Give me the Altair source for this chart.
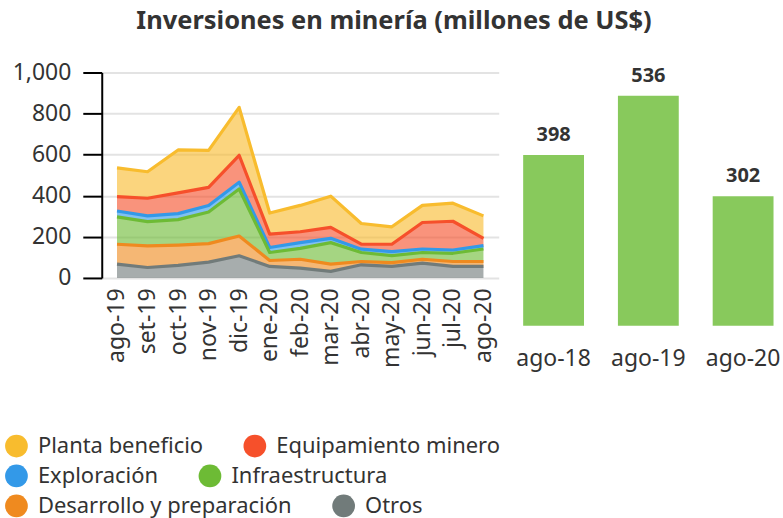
import altair as alt
import pandas as pd

months = ["ago-19", "set-19", "oct-19", "nov-19", "dic-19", "ene-20", "feb-20",
          "mar-20", "abr-20", "may-20", "jun-20", "jul-20", "ago-20"]

series = ["Planta beneficio", "Equipamiento minero", "Exploración",
          "Infraestructura", "Desarrollo y preparación", "Otros"]
colors = ["#F8BC2E", "#F6502B", "#3399E8", "#6DBB35", "#EF8A1F", "#717B7A"]

planta = [140, 129, 209, 180, 233, 103, 128, 152, 100, 85, 83, 88, 109]
equipamiento = [70, 86, 101, 88, 131, 65, 53, 53, 25, 36, 129, 140, 36]
exploracion = [29, 28, 29, 32, 33, 24, 28, 21, 16, 19, 17, 16, 16]
infraestructura = [133, 118, 124, 154, 229, 39, 53, 105, 44, 34, 33, 40, 61]
desarrollo = [97, 105, 99, 90, 96, 29, 43, 35, 16, 19, 19, 24, 24]
otros = [67, 51, 61, 77, 108, 56, 48, 32, 64, 56, 72, 56, 56]

bar_labels = ["ago-18", "ago-19", "ago-20"]
bar_values = [398, 536, 302]

FONT = "Noto Sans"
TXT = "#333333"

values_by_series = [planta, equipamiento, exploracion, infraestructura, desarrollo, otros]
rows = []
for si, (name, vals) in enumerate(zip(series, values_by_series)):
    for m, v in zip(months, vals):
        rows.append({"mes": m, "serie": name, "valor": v, "orden": len(series) - si})
df = pd.DataFrame(rows)

bars = pd.DataFrame({"periodo": bar_labels, "valor": bar_values})

x_enc = alt.X("mes:N", sort=months, scale=alt.Scale(type="point", padding=0.5),
              axis=alt.Axis(title=None, labelAngle=-90, ticks=False, domain=False,
                            labelPadding=10, labelFontSize=23, labelFont=FONT,
                            labelColor=TXT, grid=False, labelBaseline="middle",
                            labelAlign="right"))
y_enc = alt.Y("y1:Q", scale=alt.Scale(domain=[0, 1000], nice=False),
              axis=alt.Axis(title=None, values=[0, 200, 400, 600, 800, 1000], format=",d",
                            tickSize=19, tickWidth=2, tickColor="#000000",
                            domainColor="#000000", domainWidth=2,
                            gridColor="#e3e3e3", gridWidth=2,
                            labelPadding=12, labelFontSize=23, labelFont=FONT,
                            labelColor=TXT))

stacked = alt.Chart(df).transform_stack(
    stack="valor", groupby=["mes"], as_=["y0", "y1"],
    sort=[alt.SortField("orden", order="ascending")], offset="zero",
)

pairs = [(0, 1), (2, 3), (4, 5)]
area_layers = []
line_layers = []
for r, (a, b) in enumerate(pairs):
    dom = [series[a], series[b]]
    rng = [colors[a], colors[b]]
    sub = stacked.transform_filter(alt.FieldOneOfPredicate(field="serie", oneOf=dom))
    area_layers.append(
        sub.mark_area(fillOpacity=0.62).encode(
            x=x_enc, y=y_enc, y2="y0:Q",
            color=alt.Color("serie:N", scale=alt.Scale(domain=dom, range=rng),
                            legend=alt.Legend(title=None, orient="none",
                                              legendX=-97, legendY=363 + 30 * r,
                                              direction="horizontal",
                                              symbolType="circle", symbolSize=520,
                                              symbolOpacity=1, symbolStrokeWidth=0,
                                              labelFontSize=22, labelFont=FONT,
                                              labelColor=TXT, labelLimit=0,
                                              labelOffset=10, columnPadding=40)),
        )
    )
    line_layers.append(
        sub.mark_line(strokeWidth=3.2, strokeJoin="round").encode(
            x=x_enc, y=y_enc,
            color=alt.Color("serie:N", scale=alt.Scale(domain=dom, range=rng), legend=None),
        )
    )

area = alt.layer(*area_layers, *line_layers).resolve_scale(
    color="independent").resolve_legend(color="independent").properties(width=398, height=206)

bar_base = alt.Chart(bars).encode(
    x=alt.X("periodo:N", sort=bar_labels,
            scale=alt.Scale(paddingInner=0.358, paddingOuter=0.1),
            axis=alt.Axis(title=None, labelAngle=0, ticks=False, domain=False,
                          labelPadding=22, labelFontSize=23, labelFont=FONT,
                          labelColor=TXT, grid=False)),
    y=alt.Y("valor:Q", scale=alt.Scale(domain=[0, 590], nice=False), axis=None),
)
bar = bar_base.mark_bar(color="#88C95C") + bar_base.mark_text(
    dy=-20, fontSize=20, fontWeight="bold", font=FONT, color=TXT
).encode(text="valor:Q")
bar = bar.properties(width=270, height=254)

chart = alt.hconcat(area, bar, spacing=13).properties(
    title=alt.TitleParams("Inversiones en minería (millones de US$)", fontSize=25.5,
                          font=FONT, fontWeight="bold", color=TXT, anchor="middle",
                          offset=27),
    padding={"left": 5, "top": 8, "right": 0, "bottom": 0},
).configure_view(stroke=None)

chart.save("out.html", embed_options={"renderer": "svg", "actions": False})
